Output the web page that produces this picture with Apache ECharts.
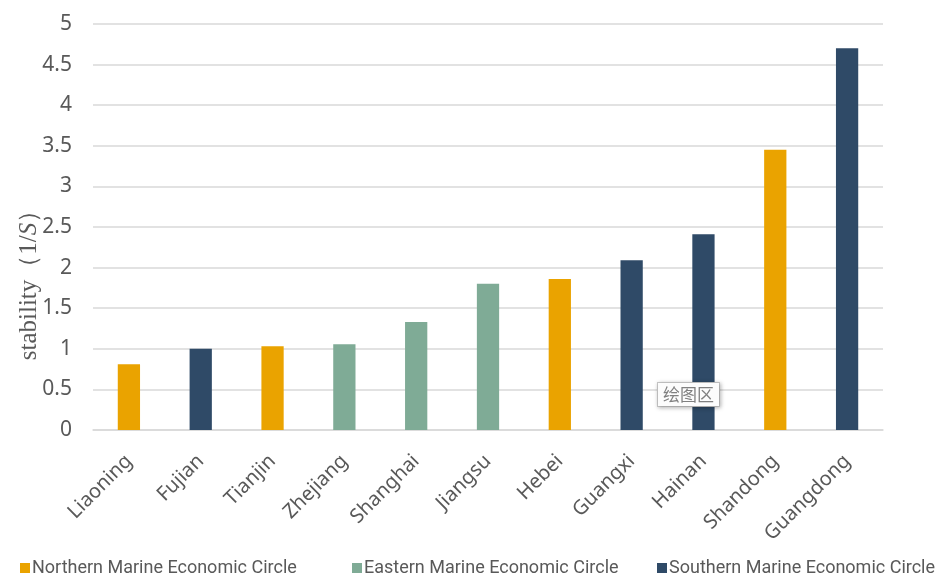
<!DOCTYPE html>
<html>
<head>
<meta charset="utf-8">
<script src="https://cdn.jsdelivr.net/npm/echarts@6/dist/echarts.min.js"></script>
<style>
  html, body { margin: 0; padding: 0; background: #fff; }
  #chart { width: 938px; height: 579px; }
</style>
</head>
<body>
<div id="chart"></div>
<script>
var provinces = ['Liaoning', 'Fujian', 'Tianjin', 'Zhejiang', 'Shanghai', 'Jiangsu', 'Hebei', 'Guangxi', 'Hainan', 'Shandong', 'Guangdong'];
var northern = [0.81, null, 1.03, null, null, null, 1.86, null, null, 3.45, null];
var eastern = [null, null, null, 1.055, 1.33, 1.80, null, null, null, null, null];
var southern = [null, 1.0, null, null, null, null, null, 2.09, 2.41, null, 4.70];
var yTicks = [0, 0.5, 1, 1.5, 2, 2.5, 3, 3.5, 4, 4.5, 5];
var circles = ['Northern Marine Economic Circle', 'Eastern Marine Economic Circle', 'Southern Marine Economic Circle'];

var grey = '#595959';
var chart = echarts.init(document.getElementById('chart'));

function makeBar(name, values, color) {
    return {
        name: name,
        type: 'bar',
        stack: 'all',
        barWidth: '31%',
        data: values,
        itemStyle: { color: color }
    };
}

// one legend per circle so each entry sits where it does in the original
function makeLegend(name, left) {
    return {
        left: left,
        top: 559,
        padding: 0,
        icon: 'rect',
        itemWidth: 10,
        itemHeight: 10,
        textStyle: { color: grey, fontSize: 18, fontFamily: 'Roboto', padding: [0, 0, 0, -3] },
        data: [name]
    };
}

chart.setOption({
    animation: false,
    grid: { left: 93, right: 55, top: 24, bottom: 149 },
    legend: [
        makeLegend(circles[0], 20),
        makeLegend(circles[1], 352),
        makeLegend(circles[2], 657)
    ],
    xAxis: {
        type: 'category',
        data: provinces,
        axisTick: { show: false },
        axisLine: { lineStyle: { color: '#d9d9d9', width: 1.5 } },
        axisLabel: {
            rotate: 45,
            interval: 0,
            margin: 28,
            color: grey,
            fontSize: 20,
            fontFamily: 'Noto Sans'
        }
    },
    yAxis: {
        type: 'value',
        min: 0,
        max: 5,
        interval: 0.5,
        axisLine: { show: false },
        axisTick: { show: false },
        splitLine: { lineStyle: { color: '#d9d9d9', width: 1.5 } },
        axisLabel: {
            margin: 21,
            color: grey,
            fontSize: 21,
            fontFamily: 'Noto Sans',
            formatter: function (v) {
                return yTicks.indexOf(v) >= 0 ? String(v) : '';
            }
        }
    },
    graphic: [
        {
            type: 'text',
            x: 29,
            y: 279,
            rotation: Math.PI / 2,
            style: {
                text: '{a|stability（1/}{b|S}{a|）}',
                align: 'center',
                verticalAlign: 'middle',
                rich: {
                    a: { fontFamily: 'Liberation Serif', fontSize: 25, fill: grey },
                    b: { fontFamily: 'Liberation Serif', fontSize: 25, fontStyle: 'italic', fill: grey }
                }
            }
        },
        {
            type: 'text',
            x: 658,
            y: 383,
            z: 100,
            style: {
                text: '绘图区',
                fontFamily: 'Noto Sans CJK SC',
                fontSize: 17,
                fill: '#808080',
                backgroundColor: '#fcfcfc',
                borderColor: '#c8c8c8',
                borderWidth: 1,
                padding: [3, 5, 3, 5],
                shadowColor: 'rgba(0,0,0,0.25)',
                shadowBlur: 4,
                shadowOffsetX: 1,
                shadowOffsetY: 1
            }
        }
    ],
    series: [
        makeBar(circles[0], northern, '#EAA300'),
        makeBar(circles[1], eastern, '#7FAB96'),
        makeBar(circles[2], southern, '#2F4A67')
    ]
});
</script>
</body>
</html>
